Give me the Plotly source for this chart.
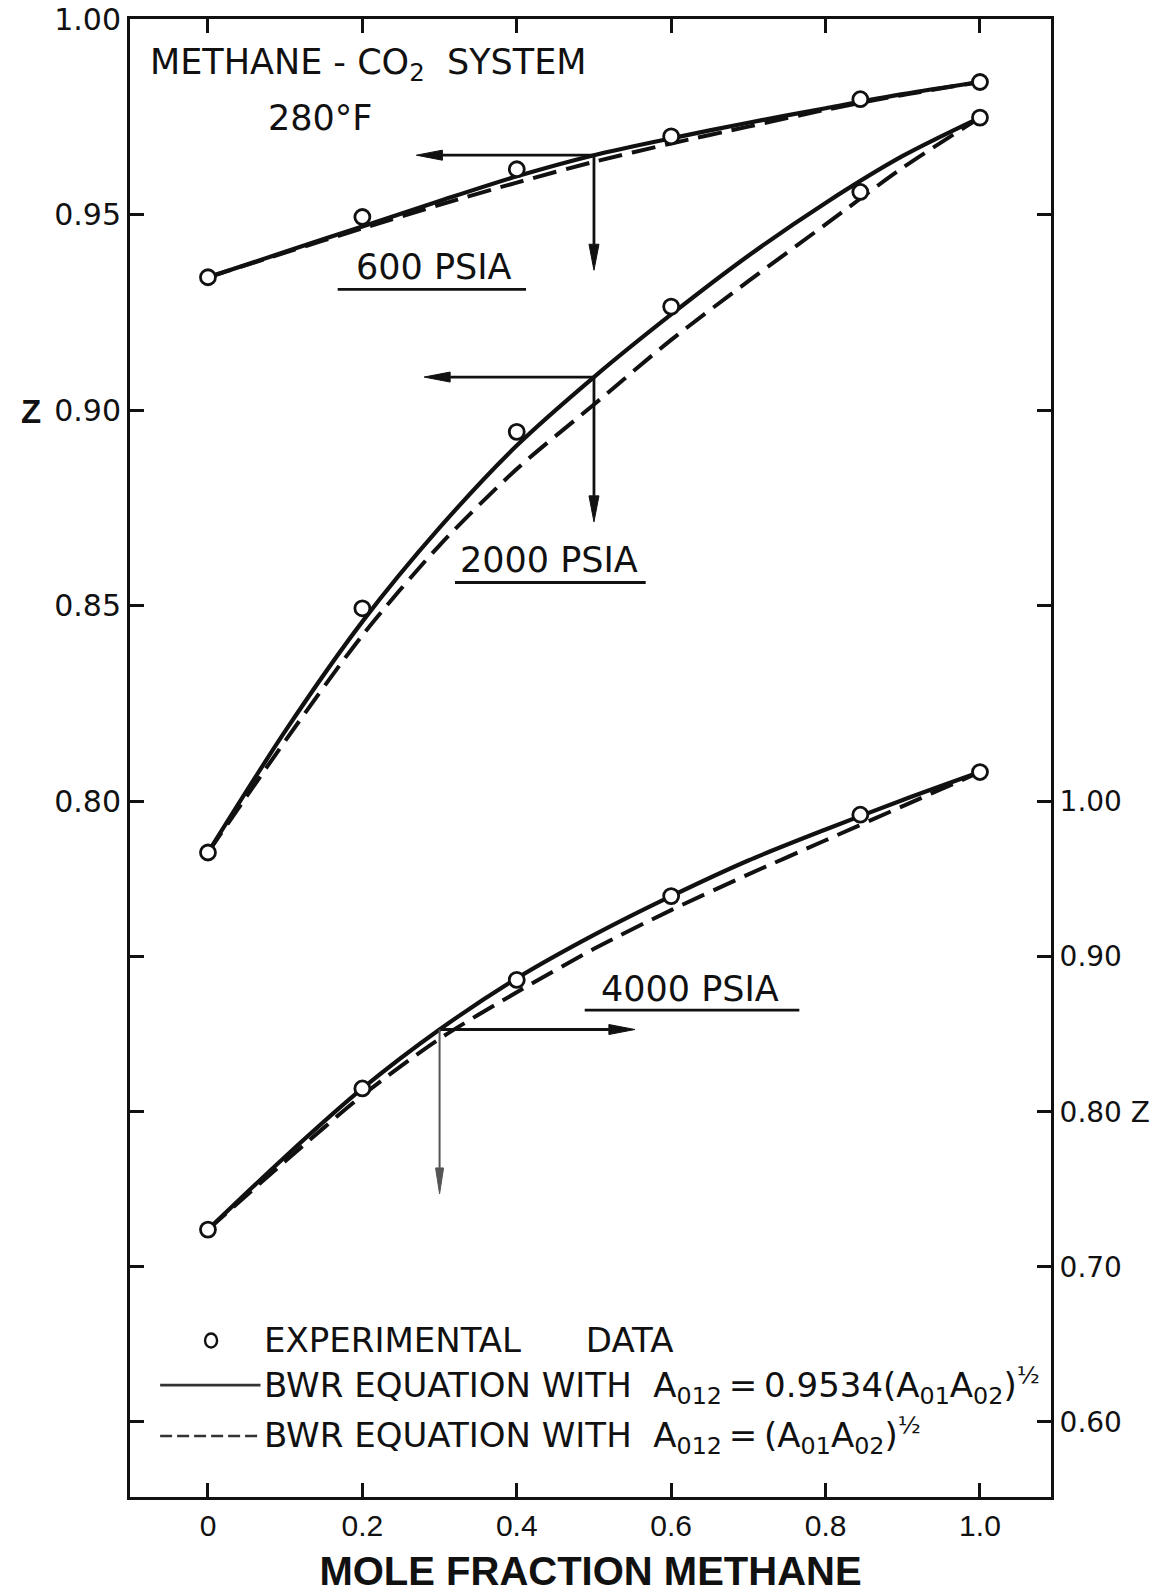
import plotly.graph_objects as go

# ---------------------------------------------------------------
# Methane - CO2 system at 280 F: compressibility factor Z vs. mole
# fraction methane at three pressures.  600 and 2000 psia are read on
# the left Z axis, 4000 psia on the right Z axis.
# ---------------------------------------------------------------

# Experimental data points
x_exp = [0.0, 0.2, 0.4, 0.6, 0.845, 1.0]
z_exp_600 = [0.934, 0.9494, 0.9616, 0.970, 0.9795, 0.9839]
z_exp_2000 = [0.787, 0.8494, 0.8945, 0.9265, 0.9558, 0.9748]
z_exp_4000 = [0.724, 0.815, 0.885, 0.939, 0.9915, 1.019]

# BWR equation curves
x_calc = [0.0, 0.1, 0.2, 0.3, 0.4, 0.5, 0.6, 0.7, 0.8, 0.9, 1.0]
# A012 = 0.9534 (A01 A02)^1/2  (solid)
z_fit_600 = [0.934, 0.9405, 0.9470, 0.9535, 0.9598, 0.9652, 0.9695, 0.9735, 0.9772, 0.9808, 0.9839]
z_fit_2000 = [0.787, 0.818, 0.846, 0.870, 0.891, 0.9085, 0.9245, 0.9395, 0.953, 0.965, 0.9748]
z_fit_4000 = [0.724, 0.771, 0.815, 0.853, 0.886, 0.914, 0.939, 0.962, 0.982, 1.001, 1.019]
# A012 = (A01 A02)^1/2  (dashed)
z_geo_600 = [0.934, 0.9403, 0.9465, 0.9525, 0.9582, 0.9635, 0.9682, 0.9725, 0.9768, 0.9806, 0.9839]
z_geo_2000 = [0.787, 0.8155, 0.8425, 0.8655, 0.885, 0.9015, 0.918, 0.933, 0.9475, 0.962, 0.9748]
z_geo_4000 = [0.724, 0.768, 0.8105, 0.847, 0.877, 0.905, 0.930, 0.953, 0.975, 0.997, 1.019]

# Axis ticks
x_ticks = [0.0, 0.2, 0.4, 0.6, 0.8, 1.0]
x_ticktext = ["0", "0.2", "0.4", "0.6", "0.8", "1.0"]
left_ticks = [0.80, 0.85, 0.90, 0.95, 1.00]
left_ticktext = ["0.80", "0.85", "0.90", "0.95", "1.00"]
right_ticks = [0.60, 0.70, 0.80, 0.90, 1.00]
right_ticktext = ["0.60", "0.70", "0.80 Z", "0.90", "1.00"]

# ---------------------------------------------------------------
W, H = 1156, 1593
ML, MR, MT, MB = 130, 105, 19, 96
PW, PH = W - ML - MR, H - MT - MB

X_RANGE = [-0.1010, 1.0920]
YL_RANGE = [0.6223, 1.0]
YR_RANGE = [0.5516, 1.5045]

px_x = PW / (X_RANGE[1] - X_RANGE[0])
px_yl = PH / (YL_RANGE[1] - YL_RANGE[0])
px_yr = PH / (YR_RANGE[1] - YR_RANGE[0])

INK = "#111111"
FONT = "DejaVu Sans"
NUMFONT = "DejaVu Sans"
XFONT = "Liberation Sans"

fig = go.Figure()

SOLID_W = 4.2
DASH_W = 4.0
DASH = "24px,10px"

curves = [
    (z_geo_600, "y", "dash"), (z_fit_600, "y", "solid"),
    (z_geo_2000, "y", "dash"), (z_fit_2000, "y", "solid"),
    (z_geo_4000, "y2", "dash"), (z_fit_4000, "y2", "solid"),
]
for zs, yax, style in curves:
    fig.add_trace(go.Scatter(
        x=x_calc, y=zs, yaxis=yax, mode="lines",
        line=dict(color=INK, width=SOLID_W if style == "solid" else DASH_W,
                  dash=DASH if style == "dash" else "solid",
                  shape="spline", smoothing=0.8),
        hoverinfo="skip", showlegend=False))

for zs, yax in [(z_exp_600, "y"), (z_exp_2000, "y"), (z_exp_4000, "y2")]:
    fig.add_trace(go.Scatter(
        x=x_exp, y=zs, yaxis=yax, mode="markers",
        marker=dict(symbol="circle", size=15, color="white",
                    line=dict(color=INK, width=2.8)),
        showlegend=False))

shapes = []
annotations = []


def arrow(x0, y0, x1, y1, yref, width=2.8, color=INK, head_len=26, head_half=5):
    """Shaft from (x0, y0) to a narrow filled arrowhead tip at (x1, y1)."""
    sy = px_yl if yref == "y" else px_yr
    dx, dy = (x1 - x0) * px_x, (y1 - y0) * sy
    L = (dx * dx + dy * dy) ** 0.5
    ux, uy = dx / L, dy / L
    bx, by = x1 - ux * head_len / px_x, y1 - uy * head_len / sy
    shapes.append(dict(type="line", xref="x", yref=yref, x0=x0, y0=y0, x1=bx, y1=by,
                       line=dict(color=color, width=width)))
    p1 = (bx - uy * head_half / px_x, by + ux * head_half / sy)
    p2 = (bx + uy * head_half / px_x, by - ux * head_half / sy)
    path = "M {:.5f},{:.5f} L {:.5f},{:.5f} L {:.5f},{:.5f} Z".format(
        x1, y1, p1[0], p1[1], p2[0], p2[1])
    shapes.append(dict(type="path", xref="x", yref=yref, path=path,
                       fillcolor=color, line=dict(color=color, width=1)))


# Reading arrows on the solid curves
arrow(0.5, z_fit_600[5], 0.27, z_fit_600[5], "y")
arrow(0.5, z_fit_600[5], 0.5, 0.9358, "y")
arrow(0.5, z_fit_2000[5], 0.28, z_fit_2000[5], "y")
arrow(0.5, z_fit_2000[5], 0.5, 0.8715, "y")
arrow(0.3, z_fit_4000[3], 0.553, z_fit_4000[3], "y2")
arrow(0.3, z_fit_4000[3], 0.3, 0.747, "y2", width=2.0, color="#555555", head_half=4)

# Pressure labels with underlines
for label, xc, yc, ul_x0, ul_x1, ul_y, yref in [
    ("600 PSIA", 0.293, 0.9366, 0.168, 0.412, 0.9309, "y"),
    ("2000 PSIA", 0.442, 0.8618, 0.320, 0.567, 0.8560, "y"),
    ("4000 PSIA", 0.625, 0.879, 0.488, 0.766, 0.8655, "y2"),
]:
    annotations.append(dict(text=label, x=xc, y=yc, xref="x", yref=yref,
                            showarrow=False, xanchor="center", yanchor="middle",
                            font=dict(family=FONT, size=35, color=INK)))
    shapes.append(dict(type="line", xref="x", yref=yref, x0=ul_x0, x1=ul_x1,
                       y0=ul_y, y1=ul_y, line=dict(color=INK, width=2.8)))

# Heading
annotations.append(dict(text="METHANE - CO<sub>2</sub>  SYSTEM", x=-0.0776, y=0.9885,
                        xref="x", yref="y", showarrow=False, xanchor="left", yanchor="middle",
                        font=dict(family=FONT, size=35, color=INK)))
annotations.append(dict(text="280°F", x=0.145, y=0.9748, xref="x", yref="y",
                        showarrow=False, xanchor="center", yanchor="middle",
                        font=dict(family=FONT, size=35, color=INK)))

# Left axis letter
annotations.append(dict(text="<b>Z</b>", x=-(ML - 31) / PW, y=(H - MB - 412) / PH,
                        xref="paper", yref="paper", showarrow=False,
                        xanchor="center", yanchor="middle",
                        font=dict(family=XFONT, size=33, color=INK)))

# Key
LEG_FONT = dict(family=FONT, size=34, color=INK)
shapes.append(dict(type="circle", xref="x", yref="y",
                   x0=0.004 - 6 / px_x, x1=0.004 + 6 / px_x,
                   y0=0.6623 - 7 / px_yl, y1=0.6623 + 7 / px_yl,
                   line=dict(color=INK, width=2.4), fillcolor="white"))
annotations.append(dict(text="EXPERIMENTAL      DATA", x=0.0697, y=0.6623, xref="x", yref="y",
                        showarrow=False, xanchor="left", yanchor="middle", font=LEG_FONT))
shapes.append(dict(type="line", xref="x", yref="y", x0=-0.062, x1=0.068,
                   y0=0.6509, y1=0.6509, line=dict(color="#333333", width=2.6)))
annotations.append(dict(
    text="BWR EQUATION WITH  A<sub>012</sub>\u2009=\u20090.9534(A<sub>01</sub>A<sub>02</sub>)<sup>½</sup>",
    x=0.0697, y=0.6509, xref="x", yref="y", showarrow=False,
    xanchor="left", yanchor="middle", font=LEG_FONT))
shapes.append(dict(type="line", xref="x", yref="y", x0=-0.062, x1=0.068,
                   y0=0.6379, y1=0.6379, line=dict(color="#333333", width=2.6, dash="12px,5px")))
annotations.append(dict(
    text="BWR EQUATION WITH  A<sub>012</sub>\u2009=\u2009(A<sub>01</sub>A<sub>02</sub>)<sup>½</sup>",
    x=0.0697, y=0.6379, xref="x", yref="y", showarrow=False,
    xanchor="left", yanchor="middle", font=LEG_FONT))

axis_common = dict(showline=True, linecolor=INK, linewidth=3, ticks="inside",
                   ticklen=14, tickwidth=2.6, tickcolor=INK, mirror="ticks",
                   showgrid=False, zeroline=False, automargin=False)

fig.update_layout(
    width=W, height=H, autosize=False,
    margin=dict(l=ML, r=MR, t=MT, b=MB),
    paper_bgcolor="white", plot_bgcolor="white",
    showlegend=False,
    xaxis=dict(range=X_RANGE, tickmode="array", tickvals=x_ticks, ticktext=x_ticktext,
               tickfont=dict(family=XFONT, size=30, color=INK),
               title=dict(text="MOLE FRACTION METHANE", standoff=18,
                          font=dict(family=XFONT, size=40, color=INK, weight="bold")),
               **axis_common),
    yaxis=dict(range=YL_RANGE, tickmode="array", tickvals=left_ticks, ticktext=left_ticktext,
               tickfont=dict(family=NUMFONT, size=30, color=INK), **axis_common),
    yaxis2=dict(range=YR_RANGE, overlaying="y", side="right", tickmode="array",
                tickvals=right_ticks, ticktext=right_ticktext,
                tickfont=dict(family=NUMFONT, size=28, color=INK), **axis_common),
    shapes=shapes,
    annotations=annotations,
)

fig.write_html("out.html")
